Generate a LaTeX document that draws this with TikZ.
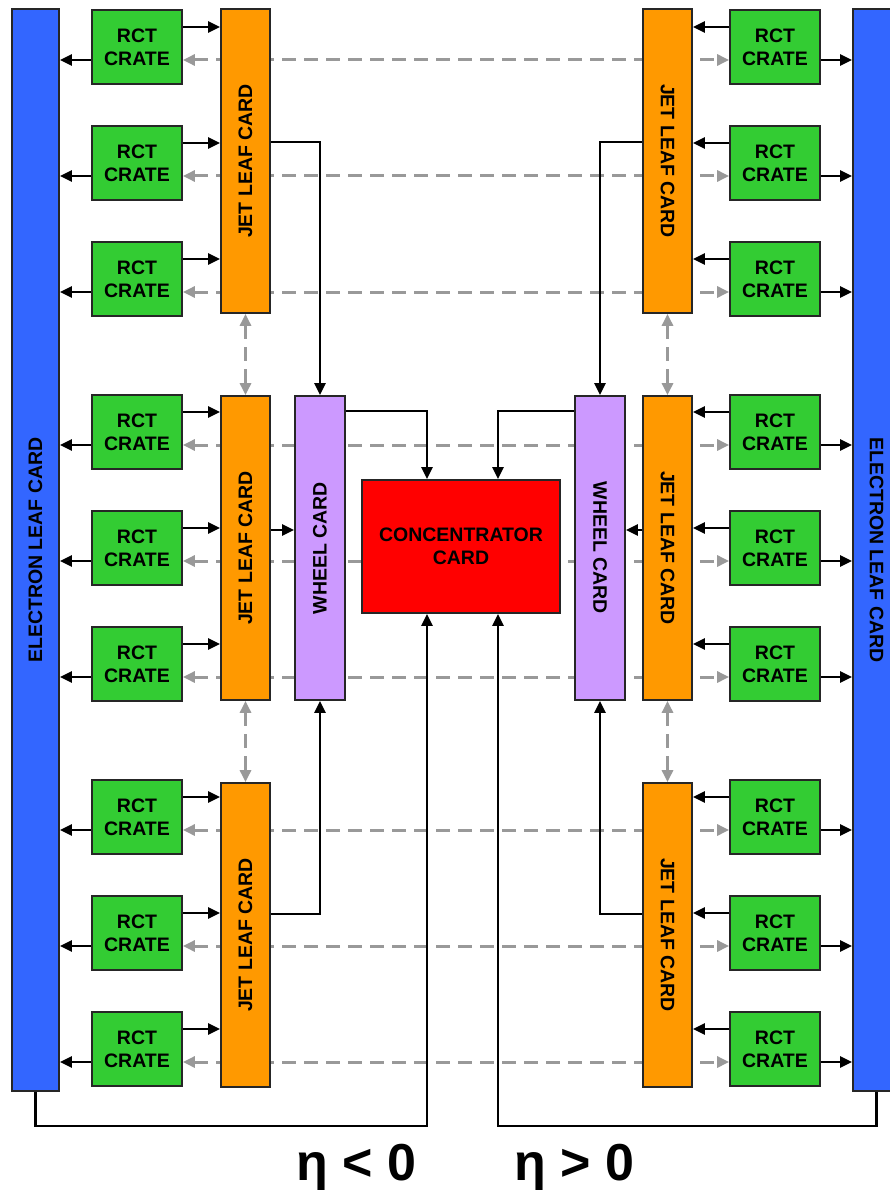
\documentclass[tikz,border=0pt]{standalone}
\usepackage{fontspec}
\setmainfont{Liberation Sans}
\usetikzlibrary{arrows.meta,positioning}
\definecolor{GCTBlue}{HTML}{3366FF}
\definecolor{GCTGreen}{HTML}{33CC33}
\definecolor{GCTOrange}{HTML}{FF9900}
\definecolor{GCTLilac}{HTML}{CC99FF}
\definecolor{GCTRed}{HTML}{FF0000}
\definecolor{GCTGrey}{HTML}{999999}

\begin{document}
\begin{tikzpicture}[
  x=1pt, y=-1pt,
  box/.style={draw=black!85, line width=1.8pt, inner sep=0pt, align=center, font=\fontsize{19.5}{23}\selectfont\bfseries},
  crate/.style={box, fill=GCTGreen, minimum width=90pt, minimum height=74pt},
  jetleaf/.style={box, fill=GCTOrange, minimum width=49pt, minimum height=304pt},
  wheel/.style={box, fill=GCTLilac, minimum width=50pt, minimum height=304pt},
  conc/.style={box, fill=GCTRed, minimum width=198pt, minimum height=133pt},
  eleaf/.style={box, fill=GCTBlue, minimum width=47pt, minimum height=1082pt},
  link/.style={-{Triangle[length=12pt,width=11pt]}, line width=2.6pt, draw=black},
  dlink/.style={{Triangle[length=12pt,width=11pt]}-{Triangle[length=12pt,width=11pt]}, line width=3pt, draw=GCTGrey, dash pattern=on 14pt off 8pt},
  eta/.style={font=\fontsize{52}{60}\selectfont\bfseries, anchor=base}
]
\useasboundingbox (0,0) rectangle (890,1190);
% rct crates
\foreach \y [count=\i] in {47,163,279,432,548,664,817,933,1049} {
  \node[crate] (lc\i) at (137,\y) {RCT\\CRATE};
  \node[crate] (rc\i) at (775,\y) {RCT\\CRATE};
}
% grey links between crate pairs (behind the cards)
\foreach \i in {1,...,9}
  \draw[dlink] ([yshift=-13pt]lc\i.east) -- ([yshift=-13pt]rc\i.west);
% cards
\node[eleaf] (lel) at (35.5,550) {\rotatebox{90}{ELECTRON LEAF CARD}};
\node[eleaf] (rel) at (876.5,550) {\rotatebox{-90}{ELECTRON LEAF CARD}};
\foreach \y [count=\j] in {161,548,935} {
  \node[jetleaf] (ljl\j) at (245.5,\y) {\rotatebox{90}{JET LEAF CARD}};
  \node[jetleaf] (rjl\j) at (667.5,\y) {\rotatebox{-90}{JET LEAF CARD}};
}
\node[wheel] (lwh) at (320,548) {\rotatebox{90}{WHEEL CARD}};
\node[wheel] (rwh) at (600,548) {\rotatebox{-90}{WHEEL CARD}};
\node[conc] (cc) at (461,546.5) {CONCENTRATOR\\CARD};
% crate outputs
\foreach \i in {1,...,9} {
  \pgfmathtruncatemacro{\j}{(\i+2)/3}
  \draw[link] ([yshift=20pt]lc\i.east) -- ([yshift=20pt]lc\i.east -| ljl\j.west);
  \draw[link] ([yshift=-13pt]lc\i.west) -- ([yshift=-13pt]lc\i.west -| lel.east);
  \draw[link] ([yshift=20pt]rc\i.west) -- ([yshift=20pt]rc\i.west -| rjl\j.east);
  \draw[link] ([yshift=-13pt]rc\i.east) -- ([yshift=-13pt]rc\i.east -| rel.west);
}
% jet leaf exchange
\draw[dlink] (ljl1) -- (ljl2);
\draw[dlink] (ljl2) -- (ljl3);
\draw[dlink] (rjl1) -- (rjl2);
\draw[dlink] (rjl2) -- (rjl3);
% jet leaf to wheel
\draw[link] ([yshift=19pt]ljl1.east) -| (lwh.north);
\draw[link] ([yshift=18pt]ljl2.east) -- ([yshift=18pt]lwh.west);
\draw[link] ([yshift=21pt]ljl3.east) -| (lwh.south);
\draw[link] ([yshift=19pt]rjl1.west) -| (rwh.north);
\draw[link] ([yshift=18pt]rjl2.west) -- ([yshift=18pt]rwh.east);
\draw[link] ([yshift=21pt]rjl3.west) -| (rwh.south);
% wheel and electron leaf to concentrator
\draw[link] ([yshift=-16pt]lwh.north east) -| ([xshift=-34pt]cc.north);
\draw[link] ([yshift=-16pt]rwh.north west) -| ([xshift=37pt]cc.north);
\draw[link] (lel.south) -- ++(0,34) -| ([xshift=-34pt]cc.south);
\draw[link] (rel.south) -- ++(0,34) -| ([xshift=37pt]cc.south);
% eta labels
\node[eta] (etaneg) at (356,1180) {η < 0};
\node[eta] (etapos) at (574,1180) {η > 0};
\end{tikzpicture}
\end{document}
